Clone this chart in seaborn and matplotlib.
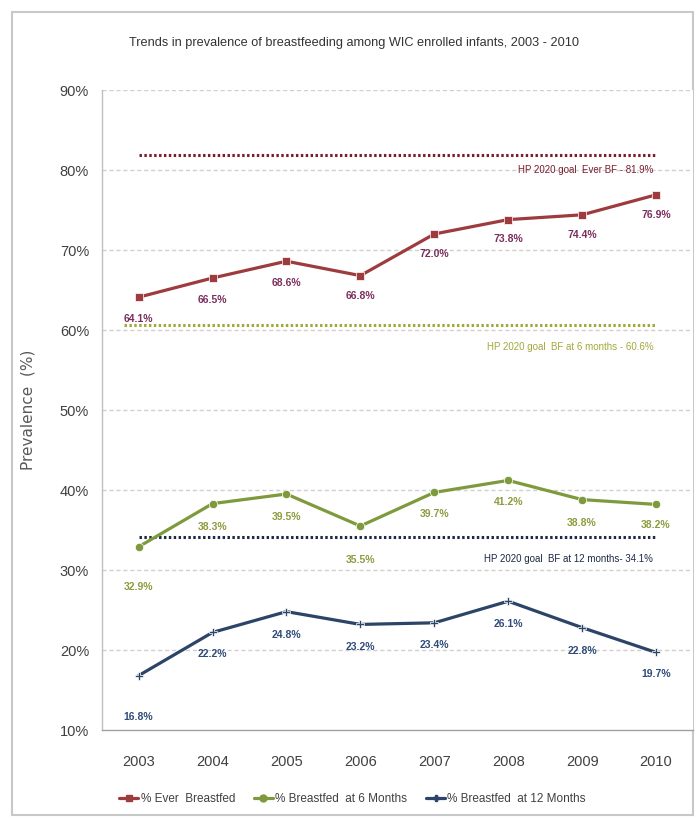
import matplotlib
matplotlib.use("Agg")
import matplotlib.pyplot as plt
from matplotlib.lines import Line2D
from matplotlib.patches import Rectangle
import seaborn as sns
import pandas as pd

years = [2003, 2004, 2005, 2006, 2007, 2008, 2009, 2010]
ever_bf = [64.1, 66.5, 68.6, 66.8, 72.0, 73.8, 74.4, 76.9]
bf_6mo = [32.9, 38.3, 39.5, 35.5, 39.7, 41.2, 38.8, 38.2]
bf_12mo = [16.8, 22.2, 24.8, 23.2, 23.4, 26.1, 22.8, 19.7]
series_names = ["% Ever  Breastfed", "% Breastfed  at 6 Months", "% Breastfed  at 12 Months"]
goal_values = [81.9, 60.6, 34.1]
goal_labels = ["HP 2020 goal  Ever BF - 81.9%",
               "HP 2020 goal  BF at 6 months - 60.6%",
               "HP 2020 goal  BF at 12 months- 34.1%"]
y_ticks = [10, 20, 30, 40, 50, 60, 70, 80, 90]

sns.set_theme(style="white")
narrow = ["Liberation Sans Narrow", "Liberation Sans", "DejaVu Sans"]
plt.rcParams["font.family"] = narrow

line_colors = ["#9E3B3E", "#7E9A3C", "#2B4467"]
label_colors = ["#7A2E5E", "#8E9B3E", "#2F4C78"]
goal_colors = ["#7A1E2E", "#A4A83A", "#1C2A45"]
markers = ["s", "o", "P"]

df = pd.concat([
    pd.DataFrame({"year": years, "value": vals, "series": name})
    for name, vals in zip(series_names, [ever_bf, bf_6mo, bf_12mo])
])

fig = plt.figure(figsize=(6.97, 8.22), dpi=100)
ax = fig.add_axes([0.1458, 0.1119, 0.8485, 0.7786])

# background grid
for t in y_ticks[1:]:
    ax.axhline(t, color="#D0D0D0", lw=1.0, ls=(0, (3, 2)), zorder=0)

sns.lineplot(data=df, x="year", y="value", hue="series", style="series",
             palette=line_colors, markers=markers, dashes=False,
             linewidth=2.3, markersize=6, markeredgewidth=0.5, ax=ax, legend=False,
             zorder=3)

# goal lines
goal_starts = [2003, 2002.8, 2003]
for g, c, x0 in zip(goal_values, goal_colors, goal_starts):
    ax.hlines(g, x0, 2010, colors=c, linestyles=(0, (0.8, 0.8)), lw=2.2, zorder=2)

goal_label_offsets = [15, 22, 22]
for g, lab, c, off in zip(goal_values, goal_labels, goal_colors, goal_label_offsets):
    ax.annotate(lab, xy=(2010, g), xytext=(-2, -off * 0.72), textcoords="offset points",
                ha="right", va="center", fontsize=7, color=c)

# data labels
offsets = [
    [22, 22, 22, 20, 20, 19, 20, 20],
    [40, 23, 23, 34, 22, 22, 23, 21],
    [41, 22, 23, 23, 22, 23, 23, 22],
]
for vals, offs, c in zip([ever_bf, bf_6mo, bf_12mo], offsets, label_colors):
    for yr, v, o in zip(years, vals, offs):
        ax.annotate(f"{v:.1f}%", xy=(yr, v), xytext=(0, -o * 0.72), textcoords="offset points",
                    ha="center", va="center", fontsize=7.5, color=c, fontweight="bold")

ax.set_xlim(2002.5, 2010.5)
ax.set_ylim(10, 90)
ax.set_yticks(y_ticks)
ax.set_yticklabels([f"{t}%" for t in y_ticks], fontsize=10.5, color="#404040")
ax.set_xticks(years)
ax.set_xticklabels([str(y) for y in years], fontsize=10.5, color="#404040")
ax.set_xticks([y + 0.5 for y in [2002] + years], minor=True)
ax.tick_params(axis="x", which="major", length=0, pad=18)
ax.tick_params(axis="x", which="minor", length=7, color="#A0A0A0", width=1, direction="out")
ax.tick_params(axis="y", length=5, color="#A0A0A0", width=1, direction="out", pad=4)
ax.set_xlabel("")
ax.set_ylabel("Prevalence  (%)", fontsize=11, color="#595959", family="DejaVu Sans")
ax.yaxis.set_label_coords(-0.1126, 0.5)

for s in ["top", "right"]:
    ax.spines[s].set_visible(False)
ax.spines["left"].set_color("#BEBEBE")
ax.spines["bottom"].set_color("#A0A0A0")
ax.spines["left"].set_linewidth(1)
ax.spines["bottom"].set_linewidth(1)

fig.text(0.508, 0.948, "Trends in prevalence of breastfeeding among WIC enrolled infants, 2003 - 2010",
         ha="center", va="center", fontsize=9.2, color="#333333")

handles = [Line2D([], [], color=c, marker=m, lw=2.3, ms=5) for c, m in zip(line_colors, markers)]
ax.legend(handles, series_names, loc="center", bbox_to_anchor=(0.506, 0.028),
          bbox_transform=fig.transFigure, ncol=3, frameon=False, fontsize=8.5,
          handlelength=1.6, handletextpad=0.2, columnspacing=1.6, labelcolor="#404040")

fig.patches.append(Rectangle((12 / 697, 7 / 822), 681 / 697, 803 / 822, transform=fig.transFigure,
                             fill=False, edgecolor="#C8C8C8", lw=1.5, zorder=-1))

fig.savefig("out.png", dpi=100, facecolor="white")
